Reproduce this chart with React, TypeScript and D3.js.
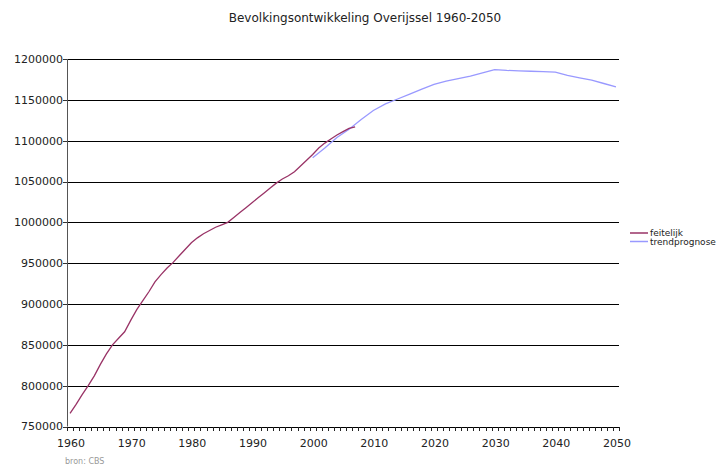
import React from "react";
import * as d3 from "d3";

const yTicks = [750000, 800000, 850000, 900000, 950000, 1000000, 1050000, 1100000, 1150000, 1200000];
const xLabelYears = [1960, 1970, 1980, 1990, 2000, 2010, 2020, 2030, 2040, 2050];

const feitelijkYears = [1960, 1961, 1962, 1963, 1964, 1965, 1966, 1967, 1968, 1969, 1970, 1971, 1972, 1973, 1974, 1975, 1976, 1977, 1978, 1979, 1980, 1981, 1982, 1983, 1984, 1985, 1986, 1987, 1988, 1989, 1990, 1991, 1992, 1993, 1994, 1995, 1996, 1997, 1998, 1999, 2000, 2001, 2002, 2003, 2004, 2005, 2006, 2007];
const feitelijkValues = [766000, 777000, 789000, 800000, 812000, 826000, 839000, 850000, 858000, 866000, 880000, 893000, 904000, 915000, 927000, 936000, 944000, 951000, 959000, 967000, 975000, 981000, 986000, 990000, 994000, 997000, 1000000, 1006000, 1012000, 1018000, 1024000, 1030000, 1036000, 1042000, 1048000, 1053000, 1057000, 1062000, 1069000, 1076000, 1083000, 1091000, 1097000, 1102000, 1107000, 1111000, 1115000, 1117000];

const trendYears = [2000, 2002, 2004, 2006, 2008, 2010, 2012, 2014, 2016, 2018, 2020, 2022, 2024, 2026, 2028, 2030, 2032, 2034, 2036, 2038, 2040, 2042, 2044, 2046, 2048, 2050];
const trendValues = [1079000, 1091000, 1104000, 1114000, 1126000, 1137000, 1145000, 1151000, 1157000, 1163000, 1169000, 1173000, 1176000, 1179000, 1183000, 1187000, 1186000, 1185500, 1185000, 1184500, 1184000, 1180000, 1177000, 1174000, 1170000, 1166000];

const seriesNames = ["feitelijk", "trendprognose"];
const seriesColors = ["#993366", "#9999FF"];

export default function App() {
  const W = 724, H = 466;
  const left = 67, right = 619, top = 59, bottom = 426.5;
  const x = d3.scaleLinear().domain([1959.5, 2050.5]).range([left, right]);
  const y = d3.scaleLinear().domain([750000, 1200000]).range([bottom, top]);
  const line = d3.line<[number, number]>().x(d => x(d[0])).y(d => y(d[1]));
  const f: [number, number][] = feitelijkYears.map((yr, i) => [yr, feitelijkValues[i]]);
  const t: [number, number][] = trendYears.map((yr, i) => [yr, trendValues[i]]);
  const minorTicks = d3.range(1959.5, 2051.5, 1);
  const font = "'DejaVu Sans', Verdana, sans-serif";

  return (
    <svg width={W} height={H} style={{ position: "absolute", left: 0, top: 0, background: "#fff" }} fontFamily={font}>
      <text x={365} y={22} textAnchor="middle" fontSize={12} fill="#222">Bevolkingsontwikkeling Overijssel 1960-2050</text>
      {yTicks.map(v => (
        <g key={v}>
          {v !== 750000 && <line x1={left} x2={right} y1={Math.round(y(v)) + 0.5} y2={Math.round(y(v)) + 0.5} stroke="#000" strokeWidth={1} />}
          <line x1={left - 4} x2={left} y1={Math.round(y(v)) + 0.5} y2={Math.round(y(v)) + 0.5} stroke="#333" />
          <text x={63} y={y(v)} dy="0.35em" textAnchor="end" fontSize={11} fill="#222">{v}</text>
        </g>
      ))}
      <line x1={left + 0.5} x2={left + 0.5} y1={top} y2={bottom} stroke="#555" />
      <line x1={left} x2={right} y1={Math.round(bottom) + 0.5} y2={Math.round(bottom) + 0.5} stroke="#000" />
      {minorTicks.map(m => (
        <line key={m} x1={Math.round(x(m)) + 0.5} x2={Math.round(x(m)) + 0.5} y1={Math.round(bottom)} y2={Math.round(bottom) + 4} stroke="#222" />
      ))}
      {xLabelYears.map(yr => (
        <text key={yr} x={x(yr) + 1} y={447} textAnchor="middle" fontSize={11} fill="#222">{yr}</text>
      ))}
      <path d={line(t) || ""} fill="none" stroke={seriesColors[1]} strokeWidth={1.3} />
      <path d={line(f) || ""} fill="none" stroke={seriesColors[0]} strokeWidth={1.3} />
      {seriesNames.map((n, i) => (
        <g key={n}>
          <line x1={630} x2={648} y1={233 + i * 8.5} y2={233 + i * 8.5} stroke={seriesColors[i]} strokeWidth={1.5} />
          <text x={650} y={233 + i * 8.5} dy="0.35em" fontSize={9} fill="#222">{n}</text>
        </g>
      ))}
      <text x={65} y={464} fontSize={8} fill="#999">bron: CBS</text>
    </svg>
  );
}
